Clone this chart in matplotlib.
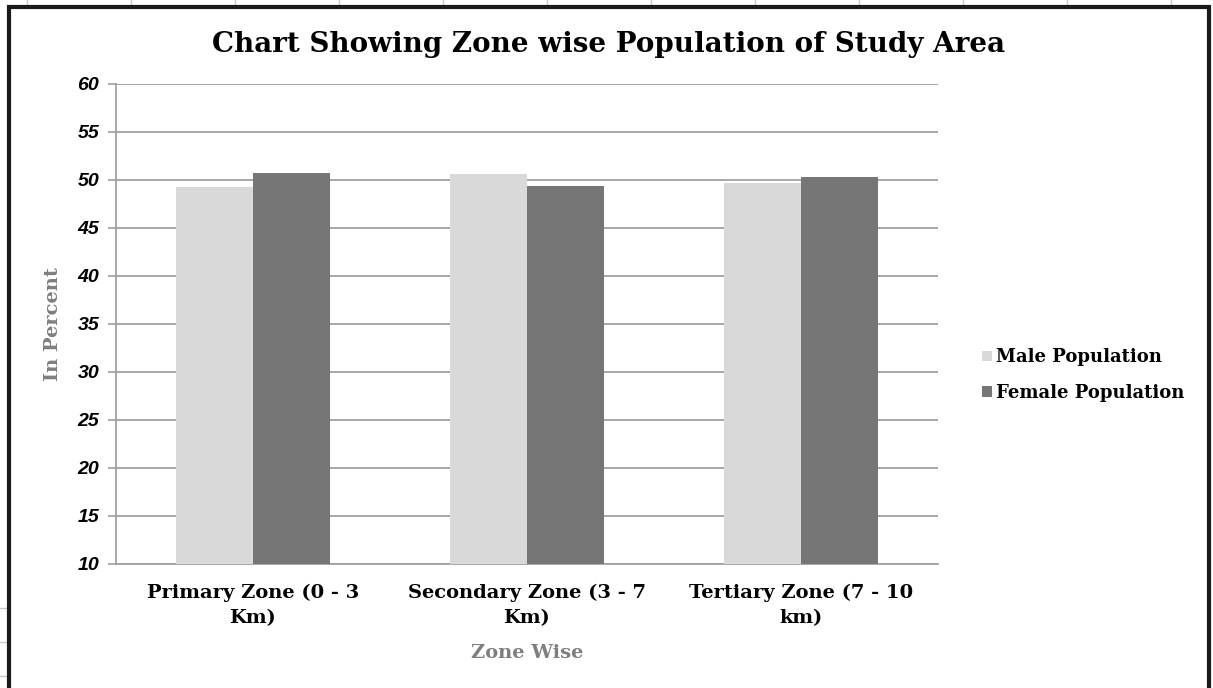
import numpy as np
import matplotlib.pyplot as plt
from matplotlib.patches import Rectangle
from matplotlib.lines import Line2D

zones = ['Primary Zone (0 - 3\nKm)', 'Secondary Zone (3 - 7\nKm)', 'Tertiary Zone (7 - 10\nkm)']
male = [49.3, 50.6, 49.7]
female = [50.7, 49.4, 50.3]
yticks = [10, 15, 20, 25, 30, 35, 40, 45, 50, 55, 60]

serif = 'DejaVu Serif'

fig = plt.figure(figsize=(12.13, 6.88), dpi=100)
ax = fig.add_axes([116 / 1213, 1 - 564 / 688, (938 - 116) / 1213, (564 - 84) / 688])

x = np.arange(len(zones))
w = 0.28
ax.bar(x - w / 2, male, w, color='#d9d9d9', label='Male Population', zorder=3)
ax.bar(x + w / 2, female, w, color='#767676', label='Female Population', zorder=3)

ax.set_xlim(-0.5, 2.5)
ax.set_ylim(10, 60)
ax.set_yticks(yticks)
ax.set_yticklabels([str(t) for t in yticks], family='Liberation Sans',
                   fontweight='bold', fontstyle='italic', fontsize=14)
ax.set_xticks(x)
ax.set_xticklabels(zones, family=serif, fontweight='bold', fontsize=14,
                   linespacing=1.55)
ax.tick_params(axis='x', length=0, pad=14)
ax.tick_params(axis='y', length=6, color='#a0a0a0', width=1.2, pad=6)
ax.grid(axis='y', color='#a0a0a0', linewidth=1.3, zorder=0)

for s in ['top', 'right']:
    ax.spines[s].set_visible(False)
for s in ['left', 'bottom']:
    ax.spines[s].set_color('#a0a0a0')
    ax.spines[s].set_linewidth(1.3)

ax.set_ylabel('In Percent', family=serif, fontweight='bold', fontsize=14,
              color='#7f7f7f', labelpad=11)
ax.set_xlabel('Zone Wise', family=serif, fontweight='bold', fontsize=14,
              color='#7f7f7f', labelpad=12)

fig.text(609 / 1213, 1 - 44 / 688, 'Chart Showing Zone wise Population of Study Area',
         ha='center', va='center', family=serif, fontweight='bold', fontsize=20)

leg = fig.legend(loc='center left', bbox_to_anchor=(966 / 1213, 1 - 375 / 688),
                 frameon=False, handlelength=0.55, handleheight=0.55,
                 handletextpad=0.2, labelspacing=0.95,
                 prop={'family': serif, 'weight': 'bold', 'size': 13})

# outer frame (its bottom edge runs past the bottom of the figure)
fig.patches.append(Rectangle((9 / 1213, -0.05), (1209 - 9) / 1213, 1.05 - 7 / 688,
                             transform=fig.transFigure, fill=False,
                             edgecolor='#1a1a1a', linewidth=3, zorder=10))
# sheet grid outside the frame
for gx in np.arange(27, 1213, 104):
    fig.add_artist(Line2D([gx / 1213, gx / 1213], [1 - 5 / 688, 1],
                          transform=fig.transFigure, color='#c8c8c8', linewidth=1))
for gy in [608, 642, 676]:
    fig.add_artist(Line2D([0, 6 / 1213], [1 - gy / 688, 1 - gy / 688],
                          transform=fig.transFigure, color='#c8c8c8', linewidth=1))

fig.savefig('out.png', dpi=100)
